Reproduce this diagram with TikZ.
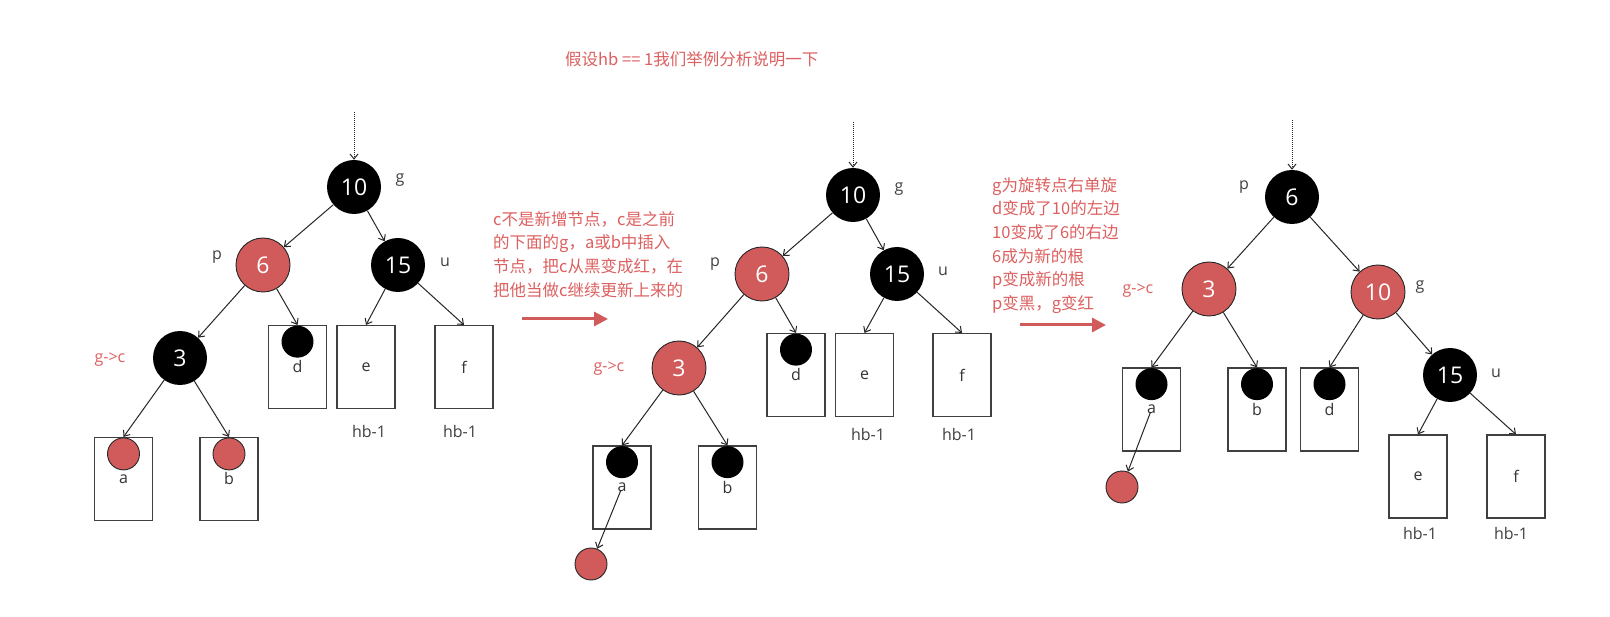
\documentclass[tikz,border=0pt]{standalone}
\usepackage{fontspec}
\setmainfont{Open Sans}
\newfontfamily\cjk{Noto Sans CJK SC}
\usetikzlibrary{arrows.meta,positioning}
\definecolor{nodered}{RGB}{209,91,91}
\definecolor{notered}{RGB}{221,96,96}
\tikzset{
  rbn/.style  ={circle, minimum size=54pt, inner sep=0pt, text=white,
                font=\fontsize{23}{23}\selectfont},
  bn/.style   ={rbn, fill=black},
  rn/.style   ={rbn, fill=nodered, draw=black!85, line width=0.9pt},
  leaf/.style ={draw=black!75, line width=1.1pt, minimum width=58pt, minimum height=83pt,
                inner sep=0pt, font=\fontsize{16}{16}\selectfont, text=black!80},
  bdot/.style ={circle, fill=black, minimum size=32pt, inner sep=0pt},
  rdot/.style ={circle, fill=nodered, draw=black!85, line width=0.9pt,
                minimum size=32pt, inner sep=0pt},
  tag/.style  ={font=\fontsize{16}{16}\selectfont, text=black!75},
  rtag/.style ={font=\fontsize{16}{16}\selectfont, text=notered},
  note/.style ={font=\cjk\fontsize{16.5}{23.7}\selectfont, text=notered, align=left, inner sep=0pt},
  tar/.style  ={-{Straight Barb[length=5pt,width=8pt]}, line width=1pt, black!85},
  dar/.style  ={tar, densely dotted},
  bigar/.style={-{Triangle[length=14pt,width=14pt]}, line width=3pt, nodered},
}

\begin{document}
\begin{tikzpicture}[x=1pt, y=-1pt]

\fill[white] (0,0) rectangle (1610,617);

% texts
\node[note, anchor=west] (title) at (565,59) {假设hb == 1我们举例分析说明一下};
\node[note, anchor=north west] (n1) at (493,211)
  {c不是新增节点，c是之前\\的下面的g，a或b中插入\\节点，把c从黑变成红，在\\把他当做c继续更新上来的};
\node[note, anchor=north west] (n2) at (992,177)
  {g为旋转点右单旋\\d变成了10的左边\\10变成了6的右边\\6成为新的根\\p变成新的根\\p变黑，g变红};

% ---- before
\coordinate (ltop) at (354,112);
\node[bn] (l10) at (354,187) {10};
\node[rn] (l6) at (263,265) {6};
\node[bn] (l15) at (398,265) {15};
\node[bn] (l3) at (180,358) {3};
\node[leaf] (la) at (123.5,479) {a};
\node[leaf] (lb) at (229,479) {b};
\node[leaf] (ld) at (297.5,367) {d};
\node[leaf] (le) at (366,367) {e};
\node[leaf] (lf) at (464,367) {f};
\node[rdot, below=0.5pt] (lca) at (la.north) {};
\node[rdot, below=0.5pt] (lcb) at (lb.north) {};
\node[bdot, below=0.5pt] (lcd) at (ld.north) {};

\node[tag] (lg) at (400,180) {g};
\node[tag] (lp) at (217,257) {p};
\node[tag] (lu) at (445,262) {u};
\node[rtag] (lgc) at (110,360) {g->c};
\node[tag] (lhe) at (369,432) {hb-1};
\node[tag] (lhf) at (460,432) {hb-1};

\draw[dar] (ltop) -- (l10);
\draw[tar] (l10) -- (l6);
\draw[tar] (l10) -- (l15);
\draw[tar] (l6) -- (l3);
\draw[tar] (l6) -- (ld.north);
\draw[tar] (l15) -- (le.north);
\draw[tar] (l15) -- (lf.north);
\draw[tar] (l3) -- (la.north);
\draw[tar] (l3) -- (lb.north);

% ---- recolour
\coordinate (mtop) at (853,122);
\node[bn] (m10) at (853,195) {10};
\node[rn] (m6) at (762,274) {6};
\node[bn] (m15) at (897,274) {15};
\node[rn] (m3) at (679,368) {3};
\node[leaf] (ma) at (622,487.5) {a};
\node[leaf] (mb) at (727.5,487.5) {b};
\node[leaf] (md) at (796,375) {d};
\node[leaf] (me) at (864.5,375) {e};
\node[leaf] (mf) at (962,375) {f};
\node[bdot, below=0.5pt] (mca) at (ma.north) {};
\node[bdot, below=0.5pt] (mcb) at (mb.north) {};
\node[bdot, below=0.5pt] (mcd) at (md.north) {};
\node[rdot] (mnew) at (591,564) {};

\node[tag] (mg) at (899,189) {g};
\node[tag] (mp) at (715,264) {p};
\node[tag] (mu) at (943,271) {u};
\node[rtag] (mgc) at (609,369) {g->c};
\node[tag] (mhe) at (868,435) {hb-1};
\node[tag] (mhf) at (959,435) {hb-1};

\draw[dar] (mtop) -- (m10);
\draw[tar] (m10) -- (m6);
\draw[tar] (m10) -- (m15);
\draw[tar] (m6) -- (m3);
\draw[tar] (m6) -- (md.north);
\draw[tar] (m15) -- (me.north);
\draw[tar] (m15) -- (mf.north);
\draw[tar] (m3) -- (ma.north);
\draw[tar] (m3) -- (mb.north);
\draw[tar, shorten <=3pt] (ma.center) -- (mnew);

% ---- after rotation
\coordinate (rtop) at (1292,120);
\node[bn] (r6) at (1292,197) {6};
\node[rn] (r3) at (1209,289) {3};
\node[rn] (r10) at (1378,292) {10};
\node[bn] (r15) at (1450,375) {15};
\node[leaf] (ra) at (1151.5,409.5) {a};
\node[leaf] (rb) at (1257,409.5) {b};
\node[leaf] (rd) at (1329.5,409.5) {d};
\node[leaf] (re) at (1418,476.5) {e};
\node[leaf] (rf) at (1516,476.5) {f};
\node[bdot, below=0.5pt] (rca) at (ra.north) {};
\node[bdot, below=0.5pt] (rcb) at (rb.north) {};
\node[bdot, below=0.5pt] (rcd) at (rd.north) {};
\node[rdot] (rnew) at (1122,487) {};

\node[tag] (rp) at (1244,187) {p};
\node[rtag] (rgc) at (1138,291) {g->c};
\node[tag] (rg) at (1420,287) {g};
\node[tag] (ru) at (1496,373) {u};
\node[tag] (rhe) at (1420,533) {hb-1};
\node[tag] (rhf) at (1511,533) {hb-1};

\draw[dar] (rtop) -- (r6);
\draw[tar] (r6) -- (r3);
\draw[tar] (r6) -- (r10);
\draw[tar] (r3) -- (ra.north);
\draw[tar] (r3) -- (rb.north);
\draw[tar] (r10) -- (rd.north);
\draw[tar] (r10) -- (r15);
\draw[tar] (r15) -- (re.north);
\draw[tar] (r15) -- (rf.north);
\draw[tar, shorten <=3pt] (ra.center) -- (rnew);

% steps
\coordinate (s1) at (522,319);
\coordinate (e1) at (608,319);
\coordinate (s2) at (1020,325);
\coordinate (e2) at (1106,325);
\draw[bigar] (s1) -- (e1);
\draw[bigar] (s2) -- (e2);

\end{tikzpicture}
\end{document}
